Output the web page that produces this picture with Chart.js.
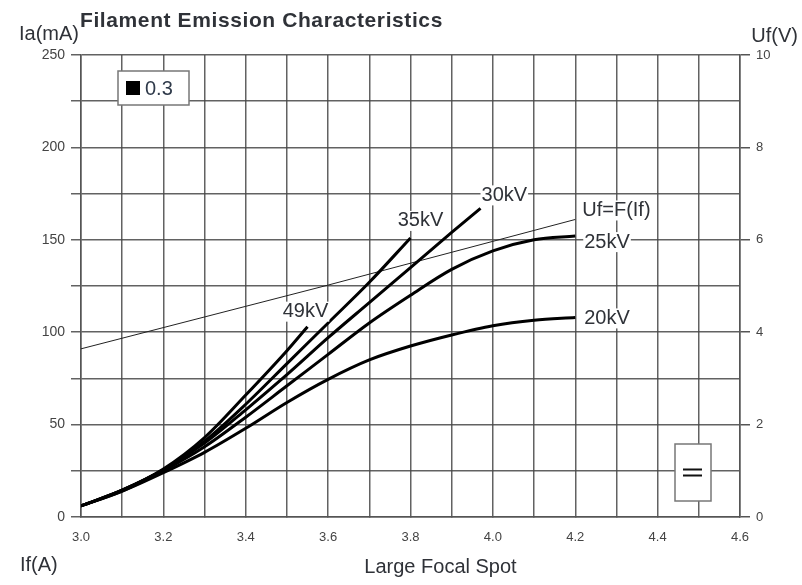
<!DOCTYPE html>
<html>
<head>
<meta charset="utf-8">
<script src="https://cdn.jsdelivr.net/npm/chart.js@4.4.1/dist/chart.umd.min.js"></script>
<style>
  html, body { margin: 0; padding: 0; background: #fff; }
  #wrap { width: 802px; height: 585px; }
</style>
</head>
<body>
<div id="wrap"><canvas id="c" width="802" height="585"></canvas></div>
<script>
// ── Data ─────────────────────────────────────────────────────────────
// Filament current If (A) on x, anode current Ia (mA) on the left axis,
// filament voltage Uf (V) on the right axis.
const IF_FULL = [3.0, 3.1, 3.2, 3.3, 3.4, 3.5, 3.6, 3.7, 3.8, 3.9, 4.0, 4.1, 4.2];
const IA_20KV = [6, 14, 24, 35, 48, 62, 74.5, 85, 92.5, 98.5, 103.5, 106.5, 108];
const IA_25KV = [6, 14, 25, 38, 54, 71, 88, 105, 120, 134, 144, 150, 152];

const IF_30KV = [3.0, 3.1, 3.2, 3.3, 3.4, 3.5, 3.6, 3.7, 3.8, 3.9, 3.97];
const IA_30KV = [6, 14.5, 25.5, 40, 58, 77, 97, 116, 135, 154, 167];

const IF_35KV = [3.0, 3.1, 3.2, 3.3, 3.4, 3.5, 3.6, 3.7, 3.8];
const IA_35KV = [6, 14.5, 25.5, 41, 61, 83, 105, 127, 151];

const IF_49KV = [3.0, 3.1, 3.2, 3.3, 3.4, 3.5, 3.55];
const IA_49KV = [6, 14.5, 26, 43, 66, 90, 103];

const IF_UF = [3.0, 3.6, 4.2];
const UF_V = [3.64, 5.02, 6.44];

const CURVE_NAMES = ["20kV", "25kV", "30kV", "35kV", "49kV", "Uf=F(If)"];
const LEGEND_TEXT = "0.3";

const IF_MIN = 3.0, IF_MAX = 4.6;
const IA_MIN = 0, IA_MAX = 250;
const UF_MIN = 0, UF_MAX = 10;

// ── Helpers ──────────────────────────────────────────────────────────
const FONT = "'Liberation Sans', Arial, sans-serif";
const INK = "#2f3238";
const GRID = "rgba(70,70,70,0.85)";

const pts = (xs, ys) => xs.map((x, i) => ({ x, y: ys[i] }));

function curve(name, xs, ys, tag) {
  return {
    label: name,
    data: pts(xs, ys),
    borderColor: "#000",
    borderWidth: 3,
    pointRadius: 0,
    fill: false,
    cubicInterpolationMode: "monotone",
    yAxisID: "y",
    tag,
  };
}

// label placement relative to the last point of each curve
const datasets = [
  curve(CURVE_NAMES[0], IF_FULL, IA_20KV, { dx: 9, dy: 1, align: "left" }),
  curve(CURVE_NAMES[1], IF_FULL, IA_25KV, { dx: 9, dy: 6, align: "left" }),
  curve(CURVE_NAMES[2], IF_30KV, IA_30KV, { dx: 1, dy: -13, align: "left" }),
  curve(CURVE_NAMES[3], IF_35KV, IA_35KV, { dx: 10, dy: -17, align: "center" }),
  curve(CURVE_NAMES[4], IF_49KV, IA_49KV, { dx: -2, dy: -15, align: "center" }),
  {
    label: CURVE_NAMES[5],
    data: pts(IF_UF, UF_V),
    borderColor: "#222",
    borderWidth: 1,
    pointRadius: 0,
    fill: false,
    tension: 0,
    yAxisID: "y2",
    tag: { dx: 7, dy: -9, align: "left" },
  },
];

// Curve names, axis titles, legend box and the small symbol box
const annotate = {
  id: "annotate",
  beforeDatasetsDraw(chart) {
    const { ctx, chartArea: a } = chart;
    // "=" symbol box bottom right
    const bx = a.right - 65, by = a.bottom - 73, bw = 36, bh = 57;
    ctx.save();
    ctx.fillStyle = "#fff";
    ctx.fillRect(bx, by, bw, bh);
    ctx.strokeStyle = "#777";
    ctx.lineWidth = 1.5;
    ctx.strokeRect(bx, by, bw, bh);
    ctx.strokeStyle = "#111";
    ctx.lineWidth = 2;
    ctx.beginPath();
    ctx.moveTo(bx + 8, by + bh / 2 - 3);
    ctx.lineTo(bx + 27, by + bh / 2 - 3);
    ctx.moveTo(bx + 8, by + bh / 2 + 3);
    ctx.lineTo(bx + 27, by + bh / 2 + 3);
    ctx.stroke();

    // legend box top left
    const lx = a.left + 37, ly = a.top + 16, lw = 71, lh = 34;
    ctx.fillStyle = "#fff";
    ctx.fillRect(lx, ly, lw, lh);
    ctx.strokeStyle = "#777";
    ctx.lineWidth = 1.5;
    ctx.strokeRect(lx, ly, lw, lh);
    ctx.fillStyle = "#000";
    ctx.fillRect(lx + 8, ly + 10, 14, 14);
    ctx.fillStyle = "#2f3a4a";
    ctx.font = "20px " + FONT;
    ctx.textAlign = "left";
    ctx.textBaseline = "middle";
    ctx.fillText(LEGEND_TEXT, lx + 27, ly + lh / 2 + 1);
    ctx.restore();
  },
  afterDatasetsDraw(chart) {
    const { ctx } = chart;
    ctx.save();
    ctx.font = "20px " + FONT;
    ctx.textBaseline = "middle";
    chart.data.datasets.forEach((ds, i) => {
      const els = chart.getDatasetMeta(i).data;
      const last = els[els.length - 1];
      const t = ds.tag;
      const w = ctx.measureText(ds.label).width;
      let x = last.x + t.dx;
      const y = last.y + t.dy;
      if (t.align === "center") x -= w / 2;
      ctx.fillStyle = "#fff";
      ctx.fillRect(x - 1, y - 10, w + 2, 20);
      ctx.fillStyle = INK;
      ctx.textAlign = "left";
      ctx.fillText(ds.label, x, y);
    });
    ctx.restore();
  },
  afterDraw(chart) {
    const { ctx, chartArea: a } = chart;
    ctx.save();
    ctx.fillStyle = INK;
    ctx.textBaseline = "middle";
    ctx.font = "bold 21px " + FONT;
    ctx.letterSpacing = "0.6px";
    ctx.textAlign = "left";
    ctx.fillText("Filament Emission Characteristics", a.left - 1, 21);
    ctx.letterSpacing = "0px";
    ctx.font = "20px " + FONT;
    ctx.textAlign = "right";
    ctx.fillText("Ia(mA)", a.left - 2, 34);
    ctx.fillText("Uf(V)", 798, 36);
    ctx.textAlign = "left";
    ctx.fillText("If(A)", 20, 565);
    ctx.textAlign = "center";
    ctx.fillText("Large Focal Spot", (a.left + a.right) / 2 + 30, 567);
    ctx.restore();
  },
};

new Chart(document.getElementById("c"), {
  type: "line",
  data: { datasets },
  options: {
    responsive: false,
    animation: false,
    layout: { padding: { top: 55, left: 0, right: 0, bottom: 0 } },
    plugins: { legend: { display: false }, tooltip: { enabled: false } },
    scales: {
      x: {
        type: "linear",
        min: IF_MIN,
        max: IF_MAX,
        afterFit: (s) => { s.height = 68; },
        afterBuildTicks: (s) => {
          s.ticks = [];
          for (let k = 0; k <= 16; k++) s.ticks.push({ value: IF_MIN + k * 0.1 });
        },
        ticks: {
          autoSkip: false,
          maxRotation: 0,
          padding: 13,
          color: "#444",
          font: { family: FONT, size: 13 },
          callback: (v) => (Math.round(v * 10) % 2 === 0 ? v.toFixed(1) : ""),
        },
        grid: { color: GRID, lineWidth: 1.5, tickLength: 0 },
        border: { color: "#555", width: 1.5 },
      },
      y: {
        min: IA_MIN,
        max: IA_MAX,
        position: "left",
        afterFit: (s) => { s.width = 81; },
        ticks: {
          stepSize: 25,
          padding: 6,
          color: "#444",
          font: { family: FONT, size: 14 },
          callback: (v) => (v % 50 === 0 ? v : ""),
        },
        grid: { color: GRID, lineWidth: 1.5, tickLength: 10 },
        border: { color: "#555", width: 1.5 },
      },
      y2: {
        min: UF_MIN,
        max: UF_MAX,
        position: "right",
        afterFit: (s) => { s.width = 62; },
        ticks: {
          stepSize: 1,
          padding: 6,
          color: "#444",
          font: { family: FONT, size: 13 },
          callback: (v) => (v % 2 === 0 ? v : ""),
        },
        grid: {
          drawOnChartArea: false,
          tickLength: 10,
          lineWidth: 1.5,
          tickColor: (c) => (c.tick && c.tick.value % 2 === 0 ? "#555" : "rgba(0,0,0,0)"),
        },
        border: { color: "#555", width: 1.5 },
      },
    },
  },
  plugins: [annotate],
});
</script>
</body>
</html>
